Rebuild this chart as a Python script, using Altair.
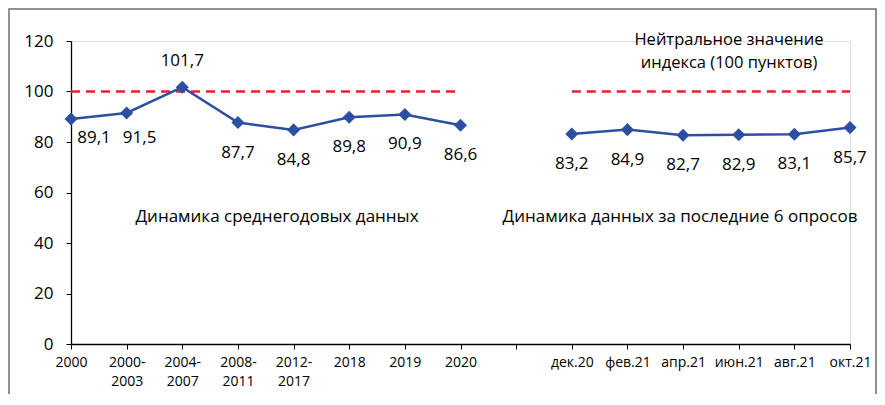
import altair as alt
import pandas as pd

categories = ["2000", "2000-2003", "2004-2007", "2008-2011", "2012-2017", "2018", "2019", "2020", " ",
              "дек.20", "фев.21", "апр.21", "июн.21", "авг.21", "окт.21"]
annual_cats = ["2000", "2000-2003", "2004-2007", "2008-2011", "2012-2017", "2018", "2019", "2020"]
annual_vals = [89.1, 91.5, 101.7, 87.7, 84.8, 89.8, 90.9, 86.6]
survey_cats = ["дек.20", "фев.21", "апр.21", "июн.21", "авг.21", "окт.21"]
survey_vals = [83.2, 84.9, 82.7, 82.9, 83.1, 85.7]
y_ticks = [0, 20, 40, 60, 80, 100, 120]
neutral_value = 100

rows = []
for c, v in zip(annual_cats, annual_vals):
    rows.append({"cat": c, "val": v, "grp": "annual", "lbl": f"{v:.1f}".replace(".", ",")})
for c, v in zip(survey_cats, survey_vals):
    rows.append({"cat": c, "val": v, "grp": "survey", "lbl": f"{v:.1f}".replace(".", ",")})
df = pd.DataFrame(rows)

FONT = "Open Sans"
BLUE = "#2C4FA1"
RED = "#E8212B"
W, H = 779, 303

label_expr = ("indexof(datum.label,'-') > 0 ? "
              "[substring(datum.label,0,indexof(datum.label,'-')+1), "
              "substring(datum.label,indexof(datum.label,'-')+1)] : datum.label")

x_enc = alt.X("cat:N", sort=categories,
              scale=alt.Scale(type="point", domain=categories, padding=0),
              axis=alt.Axis(title=None, labelAngle=0, tickSize=5, labelPadding=6,
                            labelFontSize=14, labelFont=FONT, labelColor="#000000",
                            domainColor="#000000", tickColor="#000000", domainWidth=1.3,
                            labelExpr=label_expr, labelLineHeight=19, grid=False,
                            labelBaseline="top"))
y_enc = alt.Y("val:Q", scale=alt.Scale(domain=[0, 120]),
              axis=alt.Axis(title=None, values=y_ticks, tickSize=5, labelPadding=13,
                            labelFontSize=17, labelFont=FONT, labelColor="#000000",
                            domainColor="#000000", tickColor="#000000", domainWidth=1.3,
                            grid=False))

base = alt.Chart(df)

ref = base.transform_calculate(val=str(neutral_value)).mark_line(
    color=RED, strokeWidth=2.5, strokeDash=[9, 6]
).encode(x=x_enc, y=y_enc, detail="grp:N")

line = base.mark_line(color=BLUE, strokeWidth=2.5).encode(x=x_enc, y=y_enc, detail="grp:N")
pts = base.mark_point(shape="diamond", filled=True, size=170, color=BLUE, opacity=1).encode(x=x_enc, y=y_enc)

txt_kw = dict(font=FONT, fontSize=17, color="#000000", baseline="middle", align="center")
lbl_below = base.transform_filter(
    "datum.cat != '2000' && datum.cat != '2000-2003' && datum.cat != '2004-2007'"
).mark_text(dy=30, **txt_kw).encode(x=x_enc, y=y_enc, text="lbl:N")
lbl_above = base.transform_filter("datum.cat == '2004-2007'").mark_text(dy=-26, **txt_kw).encode(
    x=x_enc, y=y_enc, text="lbl:N")
lbl_r1 = base.transform_filter("datum.cat == '2000'").mark_text(dx=23, dy=19, **txt_kw).encode(
    x=x_enc, y=y_enc, text="lbl:N")
lbl_r2 = base.transform_filter("datum.cat == '2000-2003'").mark_text(dx=13, dy=25, **txt_kw).encode(
    x=x_enc, y=y_enc, text="lbl:N")

one = pd.DataFrame({"k": [0]})


def note(text, px, py, size):
    return alt.Chart(one).mark_text(font=FONT, fontSize=size, color="#000000",
                                    align="center", baseline="middle").encode(
        x=alt.value(px), y=alt.value(py), text=alt.value(text))


n1 = note("Динамика среднегодовых данных", 206, 176, 17)
n2 = note("Динамика данных за последние 6 опросов", 609, 176, 17)
n3 = note("Нейтральное значение", 658, -1, 16.5)
n4 = note("индекса (100 пунктов)", 658, 22, 16.5)

frame = alt.Chart(one).mark_rect(fill=None, stroke="#6E6E6E", strokeWidth=1.5).encode(
    x=alt.value(-62), x2=alt.value(W + 26), y=alt.value(-32), y2=alt.value(H + 80))

chart = alt.layer(frame, ref, line, pts, lbl_below, lbl_above, lbl_r1, lbl_r2, n1, n2, n3, n4).properties(
    width=W, height=H,
    autosize=alt.AutoSizeParams(type="none"),
    padding={"left": 63, "top": 33, "right": 27, "bottom": 50},
).configure_view(stroke=None).configure(background="#ffffff")

chart.save("out.html", embed_options={"renderer": "svg", "actions": False})
